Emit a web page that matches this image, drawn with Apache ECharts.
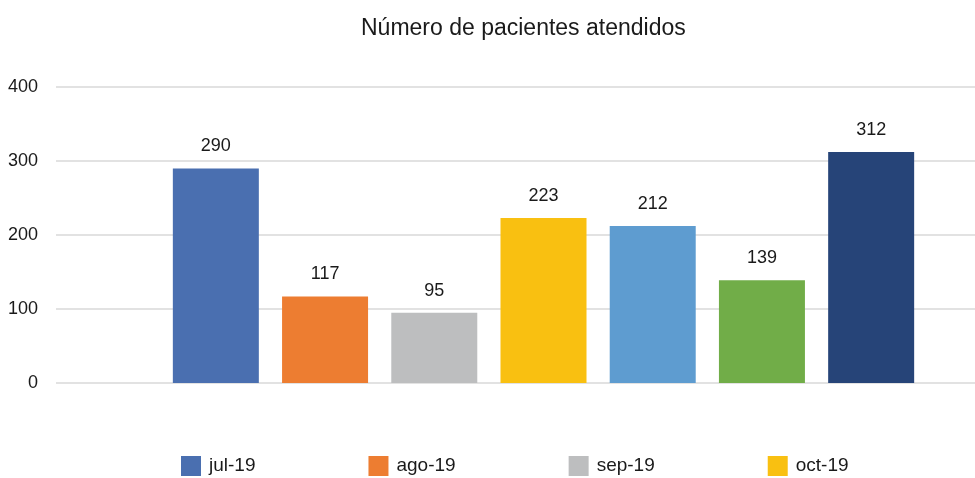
<!DOCTYPE html>
<html>
<head>
<meta charset="utf-8">
<script src="https://cdn.jsdelivr.net/npm/echarts@6/dist/echarts.min.js"></script>
<style>
  html, body { margin: 0; padding: 0; background: #fff; }
  #main { width: 975px; height: 478px; }
</style>
</head>
<body>
<div id="main"></div>
<script>
// datos del grafico
var meses = ['jul-19', 'ago-19', 'sep-19', 'oct-19', 'nov-19', 'dic-19', 'ene-20'];
var pacientes = [290, 117, 95, 223, 212, 139, 312];
var colores = ['#4A6FB0', '#ED7D31', '#BDBEBF', '#F9C011', '#5E9CD0', '#71AD48', '#264478'];
var ticksY = [0, 100, 200, 300, 400];

var fuente = '"Liberation Sans", Arial, sans-serif';

var chartDom = document.getElementById('main');
var myChart = echarts.init(chartDom);

var series = [];
for (var i = 0; i < meses.length; i++) {
  series.push({
    name: meses[i],
    type: 'bar',
    xAxisIndex: 1,
    yAxisIndex: 1,
    data: [pacientes[i]],
    barWidth: 86,
    barGap: '27%',
    itemStyle: { color: colores[i] },
    label: {
      show: true,
      position: 'top',
      distance: 13,
      color: '#1a1a1a',
      fontSize: 18,
      fontFamily: fuente
    }
  });
}

var option = {
  animation: false,
  title: {
    text: 'Número de pacientes atendidos',
    left: 356,
    top: 12,
    textStyle: {
      fontFamily: fuente,
      fontWeight: 'normal',
      fontSize: 23,
      color: '#1a1a1a'
    }
  },
  legend: {
    left: 176,
    top: 451,
    width: 700,
    itemWidth: 20,
    itemHeight: 20,
    itemGap: 113,
    icon: 'rect',
    data: meses,
    textStyle: {
      fontFamily: fuente,
      fontSize: 19,
      color: '#1a1a1a',
      padding: [0, 0, 0, 3]
    }
  },
  // grid 0: lineas y etiquetas del eje; grid 1: barras (el grafico original esta recortado a la derecha)
  grid: [
    { left: 56, right: 0, top: 87, bottom: 95 },
    { left: 112, right: 0, top: 87, bottom: 95 }
  ],
  xAxis: [
    {
      type: 'category',
      gridIndex: 0,
      data: ['pacientes'],
      axisLine: { show: false },
      axisTick: { show: false },
      axisLabel: { show: false }
    },
    {
      type: 'category',
      gridIndex: 1,
      data: ['pacientes'],
      axisLine: { show: false },
      axisTick: { show: false },
      axisLabel: { show: false }
    }
  ],
  yAxis: [
    {
      type: 'value',
      gridIndex: 0,
      min: ticksY[0],
      max: ticksY[ticksY.length - 1],
      interval: 100,
      axisLine: { show: false },
      axisTick: { show: false },
      axisLabel: {
        margin: 18,
        fontSize: 18,
        fontFamily: fuente,
        color: '#1a1a1a',
        padding: [4, 0, 0, 0]
      },
      splitLine: { lineStyle: { color: '#E2E2E2', width: 2 } }
    },
    {
      type: 'value',
      gridIndex: 1,
      min: ticksY[0],
      max: ticksY[ticksY.length - 1],
      interval: 100,
      axisLine: { show: false },
      axisTick: { show: false },
      axisLabel: { show: false },
      splitLine: { show: false }
    }
  ],
  series: series
};

myChart.setOption(option);
</script>
</body>
</html>
